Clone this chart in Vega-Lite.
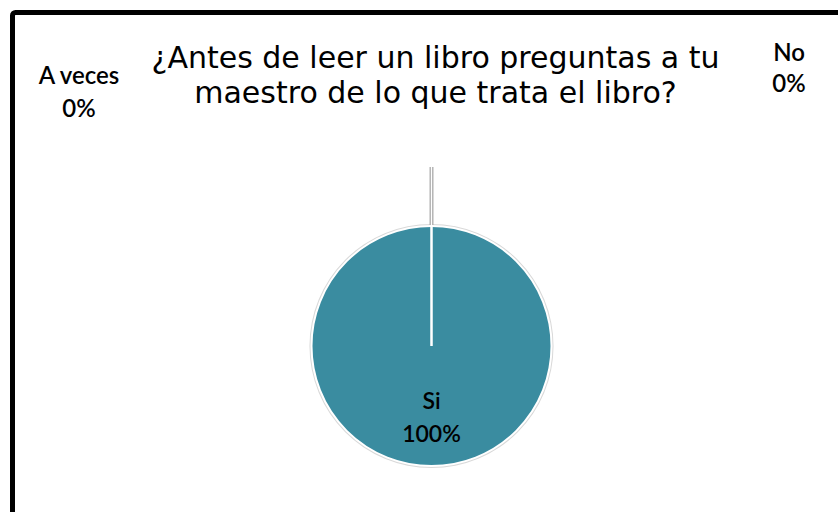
{
  "$schema": "https://vega.github.io/schema/vega-lite/v6.json",
  "autosize": {"type": "none"},
  "width": 838,
  "height": 667,
  "padding": {"left": 12.5, "top": 12.5, "right": -12.5, "bottom": -167.5},
  "background": "white",
  "view": {"stroke": "#000000", "strokeWidth": 5, "cornerRadius": 3, "fill": "white"},
  "title": {
    "text": ["¿Antes de leer un libro preguntas a tu", "maestro de lo que trata el libro?"],
    "font": "DejaVu Sans",
    "fontSize": 30,
    "fontWeight": "normal",
    "color": "#000000",
    "anchor": "middle",
    "frame": "group",
    "lineHeight": 35,
    "baseline": "alphabetic",
    "offset": -120,
    "dx": 4
  },
  "data": {
    "values": [
      {"respuesta": "Si", "valor": 100},
      {"respuesta": "No", "valor": 0},
      {"respuesta": "A veces", "valor": 0}
    ]
  },
  "transform": [
    {"calculate": "datum.respuesta + '\\n' + datum.valor + '%'", "as": "etiqueta"}
  ],
  "encoding": {
    "theta": {"field": "valor", "type": "quantitative", "stack": true, "scale": {"domain": [0, 100]}}
  },
  "layer": [
    {
      "mark": {"type": "arc", "radius": 122, "fill": "#d9d9d9"}
    },
    {
      "mark": {"type": "arc", "radius": 120, "stroke": "white", "strokeWidth": 2},
      "encoding": {
        "color": {
          "field": "respuesta",
          "type": "nominal",
          "scale": {"domain": ["Si", "No", "A veces"], "range": ["#3a8ca0", "#3a8ca0", "#3a8ca0"]},
          "legend": null
        }
      }
    },
    {
      "transform": [{"filter": "datum.valor == 0"}],
      "mark": {"type": "arc", "radius": 179, "radius2": 121, "fillOpacity": 0, "stroke": "#a6a6a6", "strokeWidth": 3.5}
    },
    {
      "transform": [{"filter": "datum.valor == 0"}],
      "mark": {"type": "arc", "radius": 179, "radius2": 121, "fillOpacity": 0, "stroke": "#ffffff", "strokeWidth": 1.2}
    },
    {
      "transform": [{"filter": "datum.respuesta == 'Si'"}],
      "mark": {"type": "text", "radius": 63, "baseline": "alphabetic", "align": "center", "lineBreak": "\n", "lineHeight": 33, "font": "Lato", "fontSize": 23, "fontWeight": 600, "color": "#000000"},
      "encoding": {"text": {"field": "etiqueta"}}
    },
    {
      "transform": [{"filter": "datum.respuesta == 'A veces'"}],
      "mark": {"type": "text", "radius": 0, "dx": -352.5, "dy": -262, "baseline": "alphabetic", "align": "center", "lineBreak": "\n", "lineHeight": 33, "font": "Lato", "fontSize": 24, "fontWeight": 600, "color": "#000000"},
      "encoding": {"text": {"field": "etiqueta"}}
    },
    {
      "transform": [{"filter": "datum.respuesta == 'No'"}],
      "mark": {"type": "text", "radius": 0, "dx": 357.5, "dy": -285, "baseline": "alphabetic", "align": "center", "lineBreak": "\n", "lineHeight": 31, "font": "Lato", "fontSize": 24, "fontWeight": 600, "color": "#000000"},
      "encoding": {"text": {"field": "etiqueta"}}
    }
  ]
}
